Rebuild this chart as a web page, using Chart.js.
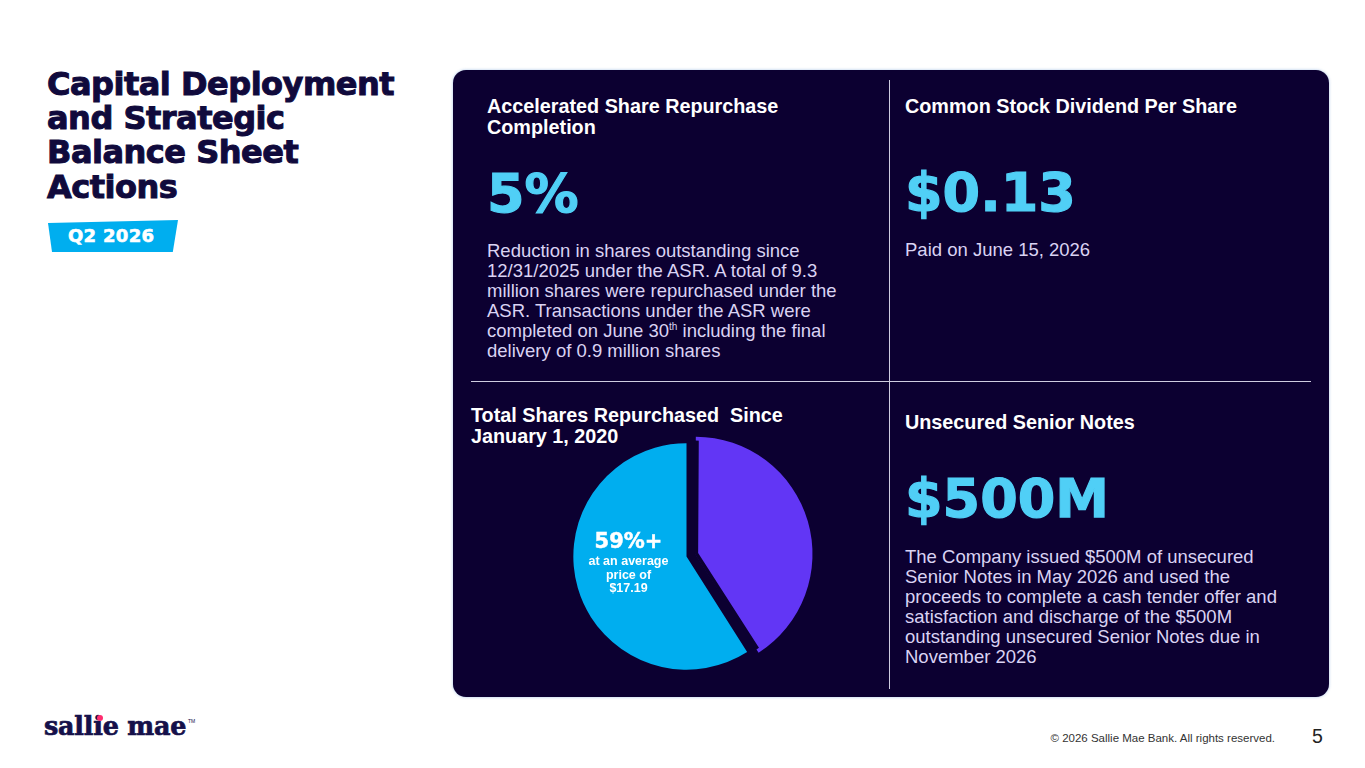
<!DOCTYPE html>
<html>
<head>
<meta charset="utf-8">
<script src="https://cdn.jsdelivr.net/npm/chart.js@4.4.1/dist/chart.umd.min.js"></script>
<style>
  html, body { margin: 0; padding: 0; background: #fff; }
  body { width: 1365px; height: 768px; position: relative; overflow: hidden; font-family: "Liberation Sans", Arial, sans-serif; }
  .abs { position: absolute; white-space: nowrap; }
  .title { left: 47px; top: 66.8px; font-family: "DejaVu Sans", sans-serif; font-weight: bold; font-size: 32px; line-height: 34.3px; color: #100a3c; letter-spacing: -0.5px; -webkit-text-stroke: 1px #100a3c; }
  .badge { left: 48px; top: 220px; width: 130px; height: 32px; background: #00aeef; clip-path: polygon(0 3px, 100% 0, 96% 100%, 4px 100%); }
  .badge-txt { left: 68px; top: 226.8px; font-family: "DejaVu Sans", sans-serif; font-weight: bold; font-size: 18px; line-height: 18px; color: #fff; -webkit-text-stroke: 0.6px #fff; letter-spacing: 0.3px; }
  .panel { left: 453px; top: 70px; width: 876px; height: 627px; background: #0c0031; border-radius: 13px; box-shadow: 0 0 3px rgba(60,120,200,0.45); }
  .vline { left: 888.5px; top: 80px; width: 1.5px; height: 609px; background: #cfcce0; }
  .hline { left: 471px; top: 380.5px; width: 840px; height: 1.5px; background: #cfcce0; }
  .head { font-weight: bold; font-size: 19.8px; line-height: 20.6px; color: #fff; }
  .big { font-family: "DejaVu Sans", sans-serif; font-weight: bold; font-size: 54px; line-height: 54px; color: #50cff6; -webkit-text-stroke: 1.2px #50cff6; }
  .desc { font-size: 18.5px; line-height: 19.9px; color: #dad3f3; }
  sup { font-size: 10px; line-height: 0; vertical-align: 7px; }
  #pieBox { position: absolute; left: 535px; top: 405px; width: 303px; height: 303px; }
  .pl1 { left: 568.5px; width: 120px; top: 530.5px; text-align: center; font-family: "DejaVu Sans", sans-serif; font-weight: bold; font-size: 21px; line-height: 21px; color: #fff; -webkit-text-stroke: 0.5px #fff; }
  .pl2 { left: 568.5px; width: 120px; top: 555px; text-align: center; font-weight: bold; font-size: 12.5px; line-height: 13.5px; color: #fff; }
  .logo { left: 44px; top: 711px; font-family: "DejaVu Serif", serif; font-weight: bold; font-size: 25.4px; line-height: 30px; color: #15104a; letter-spacing: -0.2px; -webkit-text-stroke: 0.7px #15104a; }
  .logo-tm { left: 188px; top: 718px; font-size: 5px; color: #15104a; }
  .dot { left: 97px; top: 715px; width: 6px; height: 6px; border-radius: 50%; background: #ff2d6f; }
  .copy { right: 90px; top: 731.5px; font-size: 11.5px; line-height: 13px; color: #333; }
  .page { left: 1312px; top: 724.5px; font-size: 19.5px; line-height: 22px; color: #222; }
</style>
</head>
<body>
<div class="abs title">Capital Deployment<br>and Strategic<br>Balance Sheet<br>Actions</div>
<div class="abs badge"></div>
<div class="abs badge-txt">Q2 2026</div>

<div class="abs panel"></div>
<div class="abs vline"></div>
<div class="abs hline"></div>

<div class="abs head" style="left:487px; top:96px;">Accelerated Share Repurchase<br>Completion</div>
<div class="abs big" style="left:487px; top:167.3px;">5%</div>
<div class="abs desc" style="left:487px; top:241.3px;">Reduction in shares outstanding since<br>12/31/2025 under the ASR. A total of 9.3<br>million shares were repurchased under the<br>ASR. Transactions under the ASR were<br>completed on June 30<sup>th</sup> including the final<br>delivery of 0.9 million shares</div>

<div class="abs head" style="left:905px; top:96px;">Common Stock Dividend Per Share</div>
<div class="abs big" style="left:905px; top:166.3px;">$0.13</div>
<div class="abs desc" style="left:905px; top:240.3px;">Paid on June 15, 2026</div>

<div class="abs head" style="left:471px; top:404.5px; line-height:21px;">Total Shares Repurchased&nbsp; Since<br>January 1, 2020</div>

<div class="abs head" style="left:905px; top:411.5px;">Unsecured Senior Notes</div>
<div class="abs big" style="left:905px; top:472.3px;">$500M</div>
<div class="abs desc" style="left:905px; top:547px;">The Company issued $500M of unsecured<br>Senior Notes in May 2026 and used the<br>proceeds to complete a cash tender offer and<br>satisfaction and discharge of the $500M<br>outstanding unsecured Senior Notes due in<br>November 2026</div>

<div id="pieBox"><canvas id="pieChart"></canvas></div>
<div class="abs pl1">59%+</div>
<div class="abs pl2">at an average<br>price of<br>$17.19</div>

<div class="abs logo">sallie mae</div>
<div class="abs dot"></div>
<div class="abs logo-tm">TM</div>
<div class="abs copy">© 2026 Sallie Mae Bank. All rights reserved.</div>
<div class="abs page">5</div>

<script>
// share of total shares, purple = remaining, cyan = repurchased since 1/1/2020
var sliceLabels = ['Remaining shares', 'Repurchased since Jan 1, 2020'];
var sliceValues = [41, 59];
var sliceColors = ['#6236f5', '#00aeef'];

document.addEventListener("DOMContentLoaded", function () {
    var ctx = document.getElementById('pieChart').getContext('2d');

    new Chart(ctx, {
        type: 'pie',
        data: {
            labels: sliceLabels,
            datasets: [{
                data: sliceValues,
                backgroundColor: sliceColors,
                // thin inner border in panel colour trims the exploded slice
                borderColor: '#0c0031',
                borderWidth: [3, 0],
                borderAlign: 'inner',
                hoverBorderWidth: 0,
                offset: [36, 0],
                hoverOffset: 0
            }]
        },
        options: {
            responsive: true,
            maintainAspectRatio: false,
            animation: false,
            layout: { padding: 20 },
            plugins: {
                legend: { display: false },
                tooltip: { enabled: false }
            }
        }
    });
});
</script>
</body>
</html>
